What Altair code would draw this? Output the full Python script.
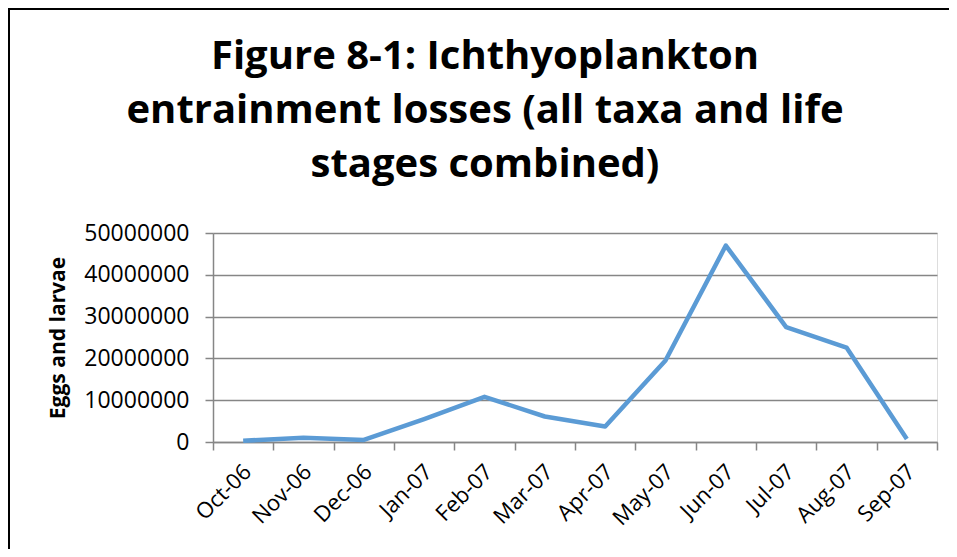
import altair as alt
import pandas as pd

months = ["Oct-06", "Nov-06", "Dec-06", "Jan-07", "Feb-07", "Mar-07",
          "Apr-07", "May-07", "Jun-07", "Jul-07", "Aug-07", "Sep-07"]
losses = [300000, 1000000, 500000, 5500000, 10800000, 6100000,
          3700000, 19500000, 47000000, 27500000, 22600000, 700000]
y_ticks = [0, 10000000, 20000000, 30000000, 40000000, 50000000]
title_lines = ["Figure 8-1: Ichthyoplankton",
               "entrainment losses (all taxa and life",
               "stages combined)"]

df = pd.DataFrame({"month": months, "value": losses})

FONT = "Open Sans"
GRAY = "#868686"

line = alt.Chart(df).mark_line(color="#5B9BD5", strokeWidth=4.5, strokeJoin="round").encode(
    x=alt.X("month:N", sort=months, bandPosition=0.5,
            scale=alt.Scale(type="band", paddingInner=0, paddingOuter=0),
            axis=alt.Axis(title=None, tickBand="extent", labelAngle=-45,
                          labelAlign="right", labelBaseline="middle",
                          tickSize=8, tickColor=GRAY, domainColor=GRAY,
                          tickWidth=1.5, domainWidth=1.5,
                          labelFont=FONT, labelFontSize=22, labelColor="black",
                          labelPadding=18, labelOffset=4, grid=False)),
    y=alt.Y("value:Q", scale=alt.Scale(domain=[0, 50000000], nice=False),
            axis=alt.Axis(title="Eggs and larvae", values=y_ticks, format="d",
                          tickSize=8, tickColor=GRAY, domainColor=GRAY,
                          tickWidth=1.5, domainWidth=1.5,
                          gridColor=GRAY, gridWidth=1.5, grid=True,
                          labelFont=FONT, labelFontSize=23, labelColor="black",
                          labelPadding=16, titleFont=FONT, titleFontSize=21,
                          titleFontWeight="bold", titleColor="black",
                          titlePadding=15)),
)

frame = alt.Data(values=[{}])
top_rule = alt.Chart(frame).mark_rule(color="black", strokeWidth=2).encode(
    x=alt.value(-205), x2=alt.value(740), y=alt.value(-224))
left_rule = alt.Chart(frame).mark_rule(color="black", strokeWidth=2).encode(
    x=alt.value(-204), y=alt.value(-225), y2=alt.value(320))

title_layers = []
for i, txt in enumerate(title_lines):
    title_layers.append(
        alt.Chart(alt.Data(values=[{"t": txt}])).mark_text(
            font=FONT, fontSize=40, fontWeight="bold", color="black",
            align="center", baseline="alphabetic"
        ).encode(text="t:N", x=alt.value(272), y=alt.value(-164 + 54 * i))
    )

chart = alt.layer(top_rule, left_rule, *title_layers, line).properties(
    width=724, height=209,
    padding={"left": 205, "top": 225, "right": 12, "bottom": 107},
    autosize=alt.AutoSizeParams(type="none"),
).configure_view(stroke=None).configure(background="white")

chart.save("out.html", embed_options={"renderer": "svg", "actions": False})
